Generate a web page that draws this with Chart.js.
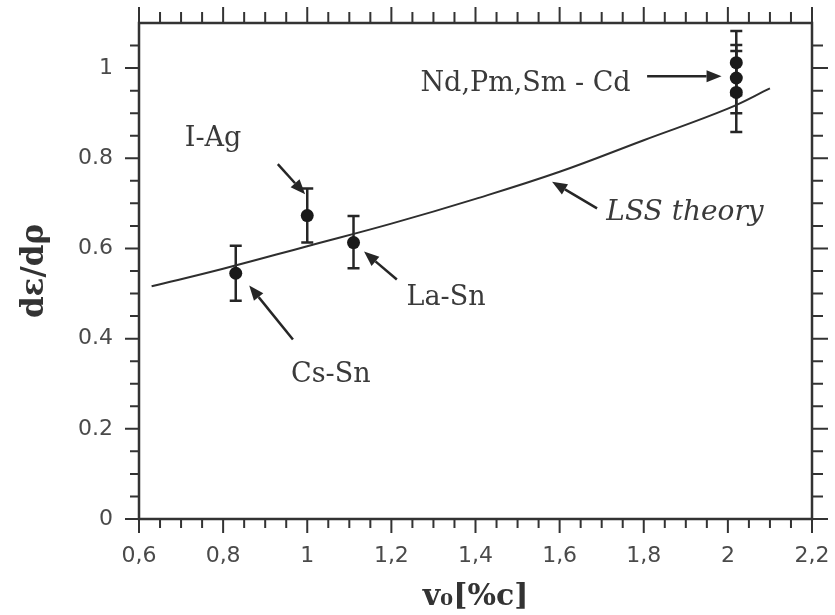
<!DOCTYPE html>
<html>
<head>
<meta charset="utf-8">
<script src="https://cdn.jsdelivr.net/npm/chart.js@4.4.1/dist/chart.umd.min.js"></script>
<style>
  html, body { margin: 0; padding: 0; background: #fff; }
</style>
</head>
<body>
<canvas id="chart" width="835" height="615"></canvas>
<script>
// axis ticks
const xTicks = [0.6, 0.8, 1, 1.2, 1.4, 1.6, 1.8, 2, 2.2];
const yTicks = [0, 0.2, 0.4, 0.6, 0.8, 1];

// measured stopping values (v0 in %c, de/dp)
const pointV0 = [0.83, 1.0, 1.11, 2.02, 2.02, 2.02];
const pointSlope = [0.545, 0.673, 0.613, 1.012, 0.978, 0.946];
const errLow = [0.484, 0.613, 0.556, 0.94, 0.9, 0.858];
const errHigh = [0.606, 0.733, 0.672, 1.082, 1.051, 1.038];

// LSS theory curve
const lssV0 = [0.63, 0.8, 1.0, 1.2, 1.4, 1.6, 1.8, 2.0, 2.1];
const lssSlope = [0.516, 0.555, 0.605, 0.655, 0.71, 0.77, 0.84, 0.91, 0.955];

// labels with arrows (data coordinates)
const notes = [
  { text: "I-Ag", x: 0.776, y: 0.842, from: [0.93, 0.787], to: [0.995, 0.72] },
  { text: "Cs-Sn", x: 1.056, y: 0.32, from: [0.966, 0.398], to: [0.862, 0.518] },
  { text: "La-Sn", x: 1.33, y: 0.491, from: [1.213, 0.531], to: [1.135, 0.593] },
  { text: "LSS theory", x: 1.898, y: 0.68, from: [1.689, 0.689], to: [1.582, 0.748], italic: true },
  { text: "Nd,Pm,Sm - Cd", x: 1.519, y: 0.964, from: [1.808, 0.982], to: [1.985, 0.982] }
];

const INK = "#262626";

function fmtX(v) {
  return String(v).replace(".", ",");
}

function noPad(s) {
  s.paddingTop = 0;
  s.paddingBottom = 0;
  s.paddingLeft = 0;
  s.paddingRight = 0;
}

const errorBars = {
  id: "errorBars",
  beforeDatasetsDraw(chart) {
    const ctx = chart.ctx;
    const xs = chart.scales.x;
    const ys = chart.scales.y;
    ctx.save();
    ctx.strokeStyle = INK;
    ctx.lineWidth = 2.5;
    for (let i = 0; i < pointV0.length; i++) {
      let px = xs.getPixelForValue(pointV0[i]);
      let lo = ys.getPixelForValue(errLow[i]);
      let hi = ys.getPixelForValue(errHigh[i]);
      ctx.beginPath();
      ctx.moveTo(px, lo);
      ctx.lineTo(px, hi);
      ctx.moveTo(px - 6, lo);
      ctx.lineTo(px + 6, lo);
      ctx.moveTo(px - 6, hi);
      ctx.lineTo(px + 6, hi);
      ctx.stroke();
    }
    ctx.restore();
  }
};

const frame = {
  id: "frame",
  afterDraw(chart) {
    const ctx = chart.ctx;
    const a = chart.chartArea;
    const xs = chart.scales.x;
    const ys = chart.scales.y;
    ctx.save();
    ctx.strokeStyle = "#333";
    ctx.lineWidth = 2.5;
    ctx.strokeRect(a.left, a.top, a.right - a.left, a.bottom - a.top);

    ctx.lineWidth = 2;
    // minor ticks every 0.05
    for (let k = 12; k <= 44; k++) {
      let v = k * 0.05;
      let major = k % 4 === 0;
      let len = major ? 14 : 9;
      let px = xs.getPixelForValue(v);
      ctx.beginPath();
      ctx.moveTo(px, a.bottom);
      ctx.lineTo(px, a.bottom + len);
      ctx.moveTo(px, a.top);
      ctx.lineTo(px, a.top - len - 2);
      ctx.stroke();
    }
    for (let k = 0; k <= 21; k++) {
      let v = k * 0.05;
      let major = k % 4 === 0;
      let len = major ? 14 : 9;
      let py = ys.getPixelForValue(v);
      ctx.beginPath();
      ctx.moveTo(a.left, py);
      ctx.lineTo(a.left - len, py);
      ctx.moveTo(a.right, py);
      ctx.lineTo(a.right + len + 2, py);
      ctx.stroke();
    }

    // annotations
    ctx.textAlign = "center";
    ctx.textBaseline = "middle";
    notes.forEach((n) => {
      ctx.font = n.italic ? "italic 28px 'DejaVu Serif'" : "27px 'DejaVu Serif'";
      ctx.fillStyle = "#3a3a3a";
      ctx.fillText(n.text, xs.getPixelForValue(n.x), ys.getPixelForValue(n.y));
      let x1 = xs.getPixelForValue(n.from[0]);
      let y1 = ys.getPixelForValue(n.from[1]);
      let x2 = xs.getPixelForValue(n.to[0]);
      let y2 = ys.getPixelForValue(n.to[1]);
      let ang = Math.atan2(y2 - y1, x2 - x1);
      let hl = 15;
      let hw = 6;
      let bx = x2 - hl * Math.cos(ang);
      let by = y2 - hl * Math.sin(ang);
      ctx.strokeStyle = INK;
      ctx.lineWidth = 2.5;
      ctx.beginPath();
      ctx.moveTo(x1, y1);
      ctx.lineTo(bx, by);
      ctx.stroke();
      ctx.fillStyle = INK;
      ctx.beginPath();
      ctx.moveTo(x2, y2);
      ctx.lineTo(bx + hw * Math.sin(ang), by - hw * Math.cos(ang));
      ctx.lineTo(bx - hw * Math.sin(ang), by + hw * Math.cos(ang));
      ctx.closePath();
      ctx.fill();
    });
    ctx.restore();
  }
};

new Chart(document.getElementById("chart"), {
  type: "scatter",
  data: {
    datasets: [
      {
        type: "line",
        label: "LSS theory",
        data: lssV0.map((v, i) => ({ x: v, y: lssSlope[i] })),
        borderColor: "#2e2e2e",
        borderWidth: 2,
        pointRadius: 0,
        fill: false,
        tension: 0.4
      },
      {
        label: "data",
        data: pointV0.map((v, i) => ({ x: v, y: pointSlope[i] })),
        backgroundColor: "#1a1a1a",
        borderWidth: 0,
        pointRadius: 6.5
      }
    ]
  },
  options: {
    responsive: false,
    animation: false,
    layout: { padding: { top: 23, right: 23, left: 0, bottom: 0 } },
    plugins: {
      legend: { display: false },
      tooltip: { enabled: false }
    },
    scales: {
      x: {
        type: "linear",
        min: 0.6,
        max: 2.2,
        afterBuildTicks: (s) => { s.ticks = xTicks.map((v) => ({ value: v })); },
        afterFit: (s) => { s.height = 96; noPad(s); },
        grid: { display: false, drawTicks: false },
        border: { display: false },
        ticks: {
          callback: (v) => fmtX(v),
          font: { family: "DejaVu Sans", size: 22 },
          color: "#4a4a4a",
          padding: 24,
          maxRotation: 0,
          autoSkip: false
        },
        title: {
          display: true,
          text: "v₀[%c]",
          font: { family: "DejaVu Serif", size: 30, weight: "bold" },
          color: "#333",
          padding: { top: 4, bottom: 0 }
        }
      },
      y: {
        type: "linear",
        min: 0,
        max: 1.1,
        afterBuildTicks: (s) => { s.ticks = yTicks.map((v) => ({ value: v })); },
        afterFit: (s) => { s.width = 139; noPad(s); },
        grid: { display: false, drawTicks: false },
        border: { display: false },
        ticks: {
          callback: (v) => String(v),
          font: { family: "DejaVu Sans", size: 22 },
          color: "#4a4a4a",
          padding: 26,
          autoSkip: false
        },
        title: {
          display: true,
          text: "dε/dρ",
          font: { family: "DejaVu Serif", size: 31, weight: "bold" },
          color: "#333",
          padding: { top: 16, bottom: 0 }
        }
      }
    }
  },
  plugins: [errorBars, frame]
});
</script>
</body>
</html>
